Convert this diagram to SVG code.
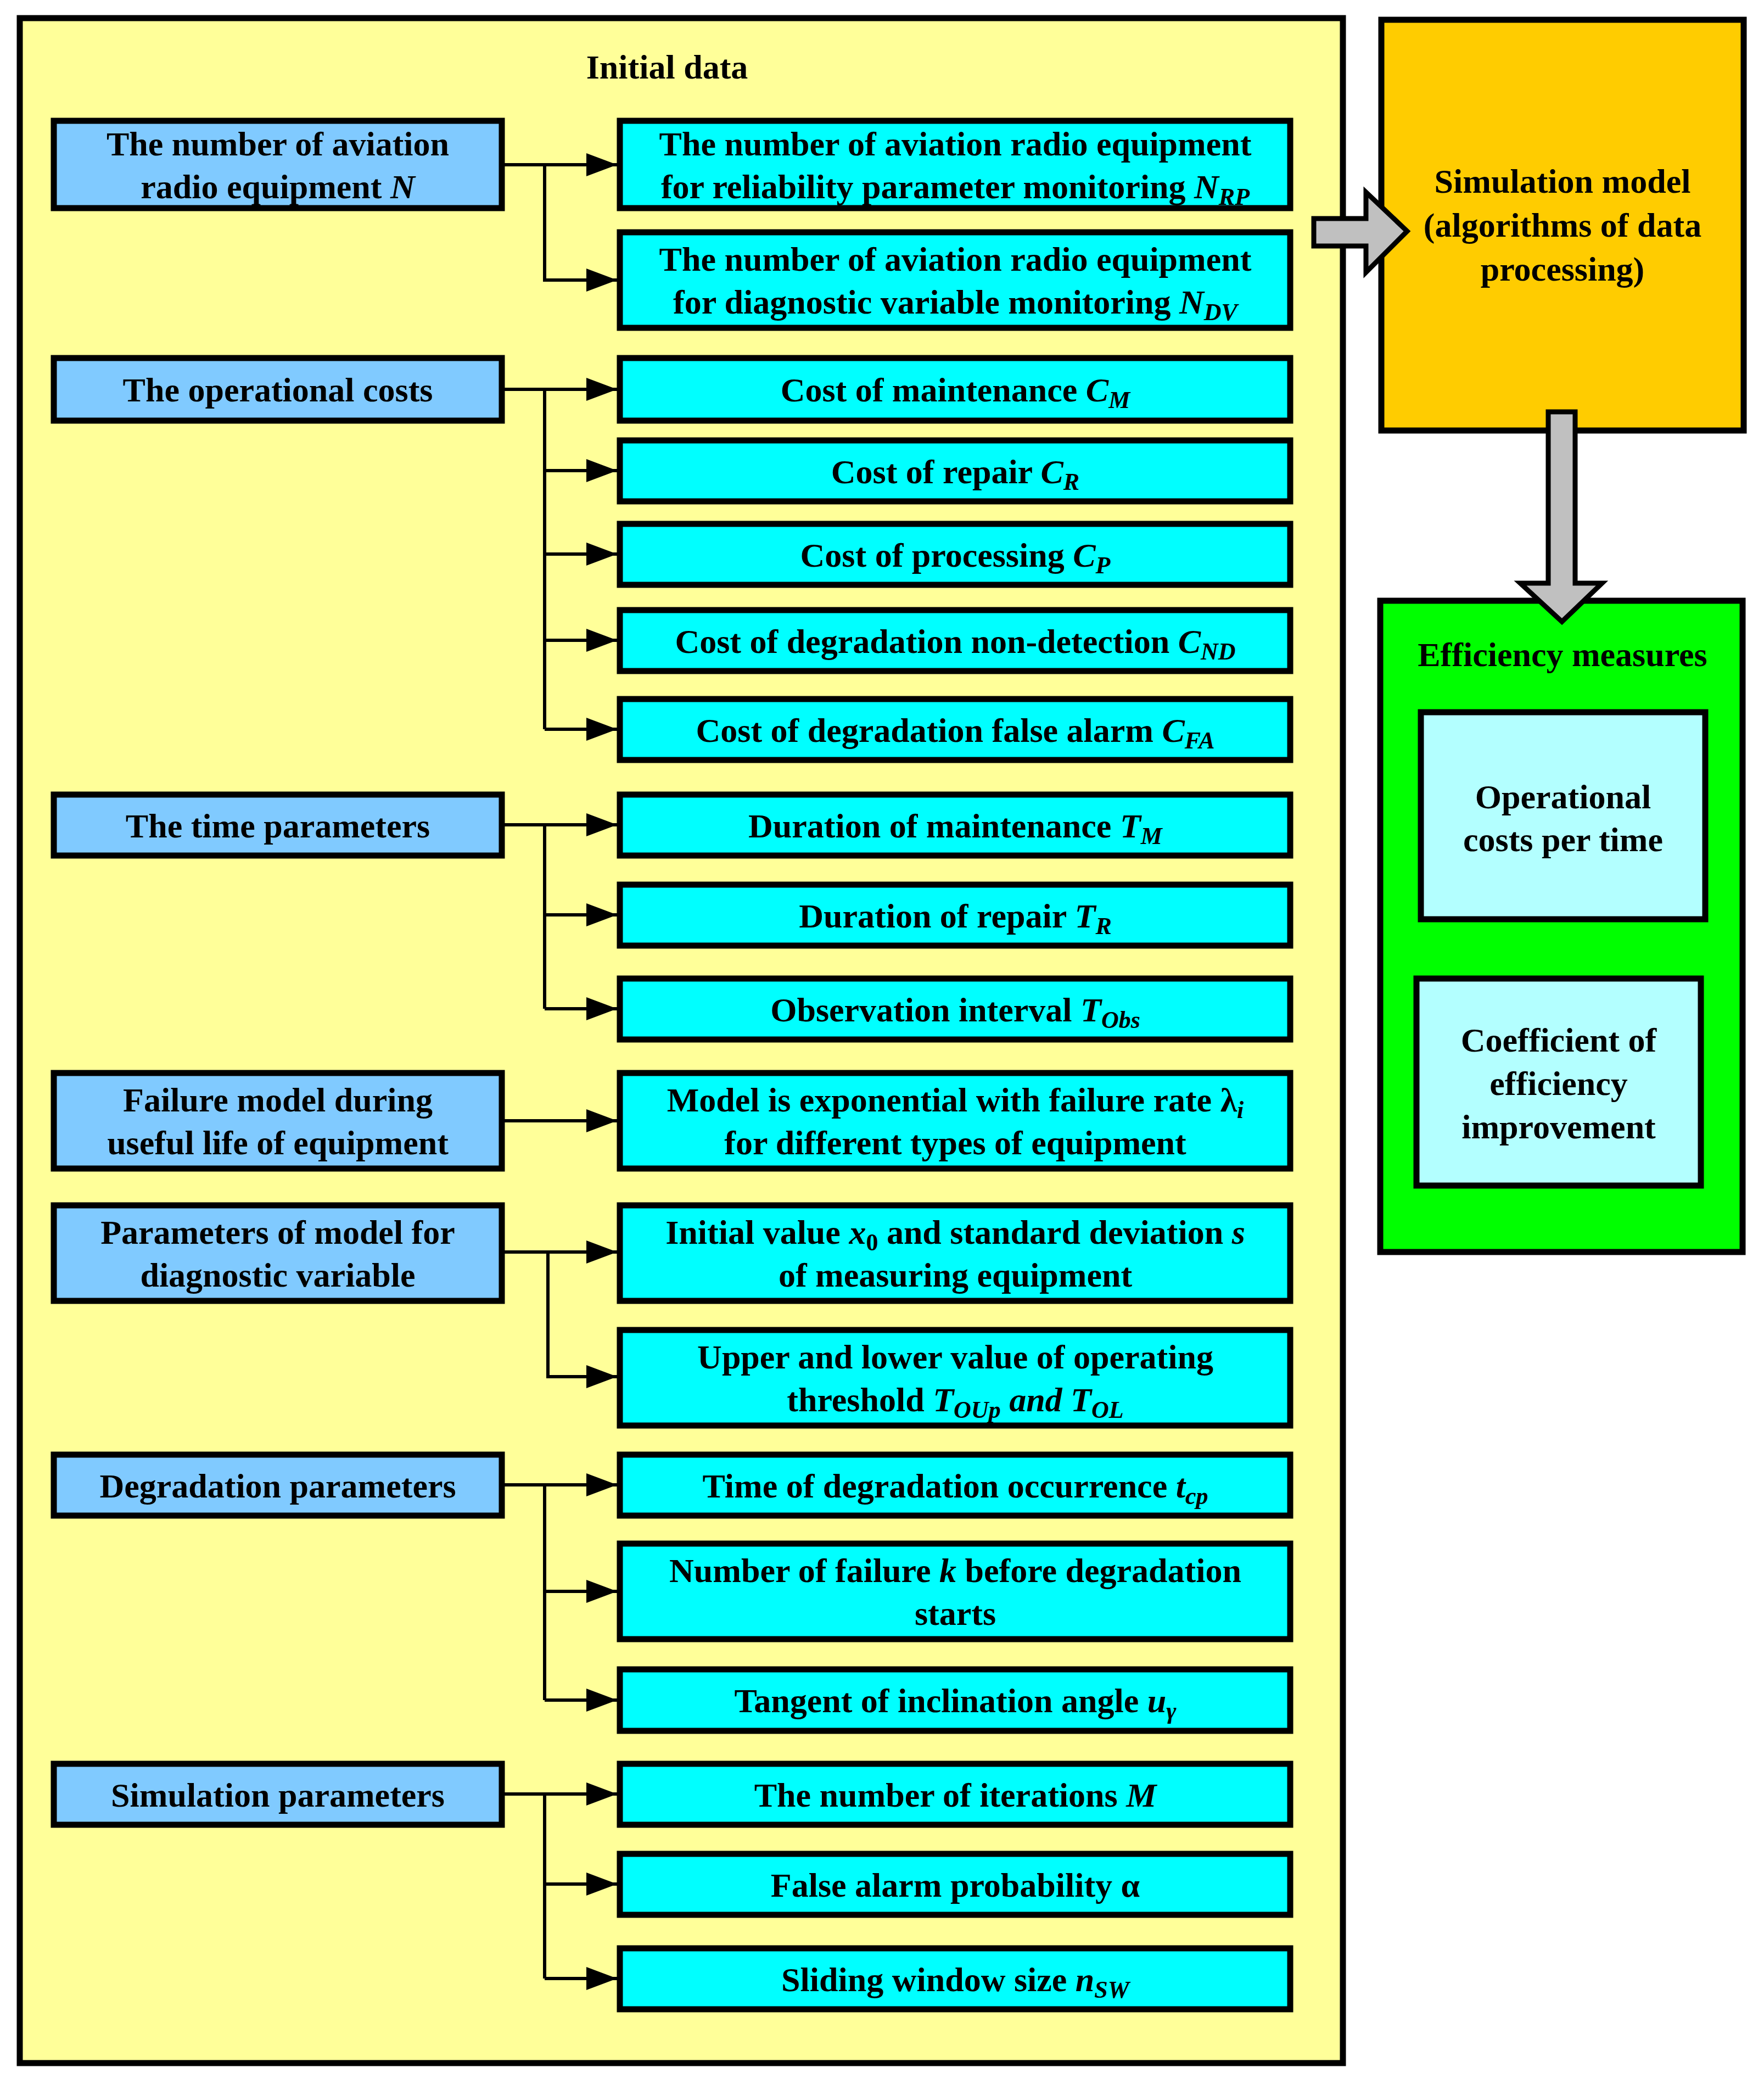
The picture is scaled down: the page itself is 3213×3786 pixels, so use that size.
<svg xmlns="http://www.w3.org/2000/svg" width="3213" height="3786" viewBox="0 0 3213 3786">
<style>
text{font-family:"Liberation Serif","Times New Roman",serif;font-weight:bold;font-size:62px;text-anchor:middle;fill:#000}
.i{font-style:italic}
.s{font-size:44px}
.b{fill:#80CAFF;stroke:#000;stroke-width:11}
.c{fill:#00FFFF;stroke:#000;stroke-width:11}
.w{fill:none;stroke:#000;stroke-width:6}
.g{fill:#C0C0C0;stroke:#000;stroke-width:9;stroke-linejoin:miter}
</style>
<defs>
<marker id="ah" markerUnits="userSpaceOnUse" markerWidth="60" markerHeight="44" refX="56" refY="21" orient="auto"><path d="M0,0 L56,21 L0,42 Z" fill="#000"/></marker>
</defs>
<g id="initial-data"><rect x="36" y="33" width="2410" height="3724" fill="#FFFF99" stroke="#000" stroke-width="11"/><text x="1215" y="143">Initial data</text></g>
<g id="n1"><rect class="b" x="98" y="220" width="816" height="159"/><text x="506" y="283">The number of aviation</text><text x="506" y="361">radio equipment <tspan class="i">N</tspan></text></g>
<g id="n1a"><rect class="c" x="1129" y="220" width="1221" height="159"/><text x="1740" y="283">The number of aviation radio equipment</text><text x="1740" y="361">for reliability parameter monitoring <tspan class="i">N</tspan><tspan class="i s" dy="12">RP</tspan></text></g>
<g id="n1b"><rect class="c" x="1129" y="423" width="1221" height="174"/><text x="1740" y="493">The number of aviation radio equipment</text><text x="1740" y="571">for diagnostic variable monitoring <tspan class="i">N</tspan><tspan class="i s" dy="12">DV</tspan></text></g>
<g id="n2"><rect class="b" x="98" y="652" width="816" height="114"/><text x="506" y="731">The operational costs</text></g>
<g id="n2a"><rect class="c" x="1129" y="652" width="1221" height="114"/><text x="1740" y="731">Cost of maintenance <tspan class="i">C</tspan><tspan class="i s" dy="12">M</tspan></text></g>
<g id="n2b"><rect class="c" x="1129" y="802" width="1221" height="111"/><text x="1740" y="880">Cost of repair <tspan class="i">C</tspan><tspan class="i s" dy="12">R</tspan></text></g>
<g id="n2c"><rect class="c" x="1129" y="954" width="1221" height="111"/><text x="1740" y="1032">Cost of processing <tspan class="i">C</tspan><tspan class="i s" dy="12">P</tspan></text></g>
<g id="n2d"><rect class="c" x="1129" y="1111" width="1221" height="111"/><text x="1740" y="1189">Cost of degradation non-detection <tspan class="i">C</tspan><tspan class="i s" dy="12">ND</tspan></text></g>
<g id="n2e"><rect class="c" x="1129" y="1273" width="1221" height="111"/><text x="1740" y="1351">Cost of degradation false alarm <tspan class="i">C</tspan><tspan class="i s" dy="12">FA</tspan></text></g>
<g id="n3"><rect class="b" x="98" y="1447" width="816" height="111"/><text x="506" y="1525">The time parameters</text></g>
<g id="n3a"><rect class="c" x="1129" y="1447" width="1221" height="111"/><text x="1740" y="1525">Duration of maintenance <tspan class="i">T</tspan><tspan class="i s" dy="12">M</tspan></text></g>
<g id="n3b"><rect class="c" x="1129" y="1611" width="1221" height="111"/><text x="1740" y="1689">Duration of repair <tspan class="i">T</tspan><tspan class="i s" dy="12">R</tspan></text></g>
<g id="n3c"><rect class="c" x="1129" y="1782" width="1221" height="111"/><text x="1740" y="1860">Observation interval <tspan class="i">T</tspan><tspan class="i s" dy="12">Obs</tspan></text></g>
<g id="n4"><rect class="b" x="98" y="1954" width="816" height="174"/><text x="506" y="2024">Failure model during</text><text x="506" y="2102">useful life of equipment</text></g>
<g id="n4a"><rect class="c" x="1129" y="1954" width="1221" height="174"/><text x="1740" y="2024">Model is exponential with failure rate λ<tspan class="i s" dy="12">i</tspan></text><text x="1740" y="2102">for different types of equipment</text></g>
<g id="n5"><rect class="b" x="98" y="2195" width="816" height="174"/><text x="506" y="2265">Parameters of model for</text><text x="506" y="2343">diagnostic variable</text></g>
<g id="n5a"><rect class="c" x="1129" y="2195" width="1221" height="174"/><text x="1740" y="2265">Initial value <tspan class="i">x</tspan><tspan class="s" dy="12">0</tspan><tspan dy="-12"> and standard deviation </tspan><tspan class="i">s</tspan></text><text x="1740" y="2343">of measuring equipment</text></g>
<g id="n5b"><rect class="c" x="1129" y="2422" width="1221" height="174"/><text x="1740" y="2492">Upper and lower value of operating</text><text x="1740" y="2570">threshold <tspan class="i">T</tspan><tspan class="i s" dy="12">OUp</tspan><tspan class="i" dy="-12"> and T</tspan><tspan class="i s" dy="12">OL</tspan></text></g>
<g id="n6"><rect class="b" x="98" y="2649" width="816" height="111"/><text x="506" y="2727">Degradation parameters</text></g>
<g id="n6a"><rect class="c" x="1129" y="2649" width="1221" height="111"/><text x="1740" y="2727">Time of degradation occurrence <tspan class="i">t</tspan><tspan class="i s" dy="12">cp</tspan></text></g>
<g id="n6b"><rect class="c" x="1129" y="2811" width="1221" height="174"/><text x="1740" y="2881">Number of failure <tspan class="i">k</tspan> before degradation</text><text x="1740" y="2959">starts</text></g>
<g id="n6c"><rect class="c" x="1129" y="3040" width="1221" height="112"/><text x="1740" y="3118">Tangent of inclination angle <tspan class="i">u</tspan><tspan class="i s" dy="12">γ</tspan></text></g>
<g id="n7"><rect class="b" x="98" y="3212" width="816" height="111"/><text x="506" y="3290">Simulation parameters</text></g>
<g id="n7a"><rect class="c" x="1129" y="3212" width="1221" height="111"/><text x="1740" y="3290">The number of iterations <tspan class="i">M</tspan></text></g>
<g id="n7b"><rect class="c" x="1129" y="3376" width="1221" height="111"/><text x="1740" y="3454">False alarm probability α</text></g>
<g id="n7c"><rect class="c" x="1129" y="3548" width="1221" height="111"/><text x="1740" y="3626">Sliding window size <tspan class="i">n</tspan><tspan class="i s" dy="12">SW</tspan></text></g>
<g id="sim"><rect x="2516" y="36" width="660" height="748" fill="#FFCC00" stroke="#000" stroke-width="11"/><text x="2846" y="351">Simulation model</text><text x="2846" y="431">(algorithms of data</text><text x="2846" y="511">processing)</text></g>
<g id="eff"><rect x="2514" y="1094" width="660" height="1186" fill="#00FF00" stroke="#000" stroke-width="11"/><text x="2846" y="1213">Efficiency measures</text>
<rect x="2588" y="1297" width="518" height="377" fill="#B3FFFF" stroke="#000" stroke-width="11"/><text x="2847" y="1472">Operational</text><text x="2847" y="1550">costs per time</text>
<rect x="2580" y="1782" width="518" height="377" fill="#B3FFFF" stroke="#000" stroke-width="11"/><text x="2839" y="1915">Coefficient of</text><text x="2839" y="1994">efficiency</text><text x="2839" y="2073">improvement</text></g>
<g id="connectors">
<path class="w" d="M914,300 H1124" marker-end="url(#ah)"/><path class="w" d="M992,300 V510 H1124" marker-end="url(#ah)"/>
<path class="w" d="M914,709 H1124" marker-end="url(#ah)"/><path class="w" d="M992,709 V1328"/>
<path class="w" d="M992,857 H1124" marker-end="url(#ah)"/><path class="w" d="M992,1009 H1124" marker-end="url(#ah)"/><path class="w" d="M992,1166 H1124" marker-end="url(#ah)"/><path class="w" d="M992,1328 H1124" marker-end="url(#ah)"/>
<path class="w" d="M914,1502 H1124" marker-end="url(#ah)"/><path class="w" d="M992,1502 V1837"/><path class="w" d="M992,1666 H1124" marker-end="url(#ah)"/><path class="w" d="M992,1837 H1124" marker-end="url(#ah)"/>
<path class="w" d="M914,2041 H1124" marker-end="url(#ah)"/>
<path class="w" d="M914,2280 H1124" marker-end="url(#ah)"/><path class="w" d="M998,2280 V2507 H1124" marker-end="url(#ah)"/>
<path class="w" d="M914,2704 H1124" marker-end="url(#ah)"/><path class="w" d="M992,2704 V3096"/><path class="w" d="M992,2898 H1124" marker-end="url(#ah)"/><path class="w" d="M992,3096 H1124" marker-end="url(#ah)"/>
<path class="w" d="M914,3267 H1124" marker-end="url(#ah)"/><path class="w" d="M992,3267 V3603"/><path class="w" d="M992,3431 H1124" marker-end="url(#ah)"/><path class="w" d="M992,3603 H1124" marker-end="url(#ah)"/>
<path class="g" d="M2393,398 H2488 V350 L2563,421 L2488,496 V448 H2393 Z"/>
<path class="g" d="M2820,750 H2869 V1062 H2918 L2845,1132 L2769,1062 H2820 Z"/>
</g>
</svg>
